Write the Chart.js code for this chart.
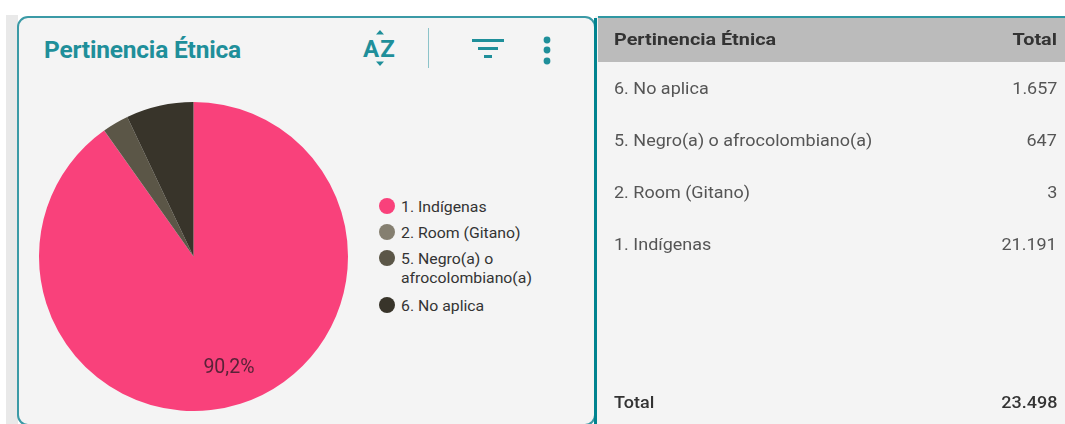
<!DOCTYPE html>
<html><head><meta charset="utf-8">
<script src="https://cdn.jsdelivr.net/npm/chart.js@4"></script>
<style>
html,body{margin:0;padding:0;background:#fff;width:1065px;height:424px;overflow:hidden;font-family:Roboto,sans-serif}
#all{position:absolute;left:0;top:0;width:1065px;height:424px;overflow:hidden;filter:blur(.6px)}
.abs{position:absolute;white-space:nowrap}
#strip{left:6px;top:15px;width:12px;height:409px;background:#e9e9e9}
#card{left:17px;top:16px;width:575px;height:406px;background:#f4f4f4;border:2px solid #3b9aa6;border-radius:11px}
#panel{left:595px;top:16px;width:470px;height:408px;background:#f4f4f4}
#bar{left:594px;top:18px;width:3px;height:406px;background:#00838f}
#ptop{left:598px;top:16px;width:467px;height:2px;background:#2f97a2}
#phead{left:598px;top:18px;width:467px;height:44px;background:#bbbbbb}
#title{left:44px;top:35px;font-size:24.5px;line-height:30px;font-weight:700;color:#1f8f9a;letter-spacing:-.2px}
#chartWrap{left:39px;top:102px;width:309px;height:309px}
.lg{left:379px;font-size:14.5px;line-height:19px;color:#333;display:flex;align-items:flex-start;gap:6px}
.lg i{display:block;width:16px;height:16px;border-radius:50%;margin-top:0;flex:none}
.lg span{display:block;transform:scaleX(1.09);transform-origin:left}
.cell{font-size:16.5px;line-height:20px;color:#555;transform:scaleX(1.09);transform-origin:left}
.r{right:8px;transform-origin:right}
.b{font-weight:500;color:#333}
.h{font-weight:700;color:#333;transform:scaleX(1.2)}
</style></head>
<body>
<div id="all">
<div id="strip" class="abs"></div>
<div id="card" class="abs"></div>
<div id="panel" class="abs"></div>
<div id="ptop" class="abs"></div>
<div id="phead" class="abs"></div>
<div id="bar" class="abs"></div>
<div id="title" class="abs">Pertinencia Étnica</div>
<div class="abs" style="left:363px;top:34px;font-size:24px;line-height:30px;font-weight:700;color:#1f8f9a;letter-spacing:1px">AZ</div>
<svg class="abs" style="left:355px;top:25px" width="50" height="52" fill="#1f8f9a"><path d="M25 5l4 4.5h-8zM25 41l-4-4.5h8z"/></svg>
<div class="abs" style="left:428px;top:28px;width:1px;height:40px;background:#8cc3c9"></div>
<svg class="abs" style="left:470px;top:38px" width="36" height="24" fill="#1f8f9a"><rect x="2" y="1" width="32" height="3"/><rect x="8" y="9" width="20" height="3"/><rect x="14" y="17" width="8" height="3"/></svg>
<svg class="abs" style="left:540px;top:36px" width="14" height="30" fill="#1f8f9a"><circle cx="7" cy="4" r="3.4"/><circle cx="7" cy="14" r="3.4"/><circle cx="7" cy="25" r="3.4"/></svg>
<div id="chartWrap" class="abs"><canvas id="c" width="309" height="309"></canvas></div>
<div id="legend"></div>
<div id="table"></div>
</div>
<script>
const categories = ["1. Indígenas", "2. Room (Gitano)", "5. Negro(a) o afrocolombiano(a)", "6. No aplica"];
const legendLines = [["1. Indígenas"], ["2. Room (Gitano)"], ["5. Negro(a) o", "afrocolombiano(a)"], ["6. No aplica"]];
const values = [21191, 3, 647, 1657];
const colors = ["#f9417b", "#857f70", "#5b5647", "#38342a"];
const tableRows = [["6. No aplica", "1.657"], ["5. Negro(a) o afrocolombiano(a)", "647"], ["2. Room (Gitano)", "3"], ["1. Indígenas", "21.191"]];
const tableHead = ["Pertinencia Étnica", "Total"];
const tableFoot = ["Total", "23.498"];
const sliceLabels = ["90,2%", "", "", ""];

const legendTops = [198, 224, 250, 297];
document.getElementById('legend').innerHTML = legendLines.map((l, i) =>
  `<div class="abs lg" style="top:${legendTops[i]}px"><i style="background:${colors[i]}"></i><span>${l.join('<br>')}</span></div>`).join('');

const rowTops = [79, 131, 183, 235];
let html = `<div class="abs cell h" style="left:614px;top:30px">${tableHead[0]}</div><div class="abs cell h r" style="top:30px">${tableHead[1]}</div>`;
tableRows.forEach((r, i) => {
  html += `<div class="abs cell" style="left:614px;top:${rowTops[i]}px">${r[0]}</div><div class="abs cell r" style="top:${rowTops[i]}px">${r[1]}</div>`;
});
html += `<div class="abs cell b" style="left:614px;top:393px">${tableFoot[0]}</div><div class="abs cell b r" style="top:393px">${tableFoot[1]}</div>`;
document.getElementById('table').innerHTML = html;

const sliceLabelPlugin = {
  id: 'sliceLabel',
  afterDatasetsDraw(chart) {
    const { ctx } = chart;
    chart.getDatasetMeta(0).data.forEach((arc, i) => {
      if (!sliceLabels[i]) return;
      const mid = (arc.startAngle + arc.endAngle) / 2;
      const r = arc.outerRadius * 0.755;
      ctx.save();
      ctx.font = '19.5px Roboto';
      ctx.fillStyle = '#5a2238';
      ctx.textAlign = 'center';
      ctx.textBaseline = 'middle';
      ctx.fillText(sliceLabels[i], arc.x + Math.cos(mid) * r, arc.y + Math.sin(mid) * r);
      ctx.restore();
    });
  }
};
new Chart(document.getElementById('c'), {
  type: 'pie',
  data: { labels: categories, datasets: [{ data: values, backgroundColor: colors, borderWidth: 0 }] },
  options: {
    responsive: false, animation: false,
    layout: { padding: 0 },
    plugins: { legend: { display: false }, tooltip: { enabled: false } }
  },
  plugins: [sliceLabelPlugin]
});
</script>
</body></html>
